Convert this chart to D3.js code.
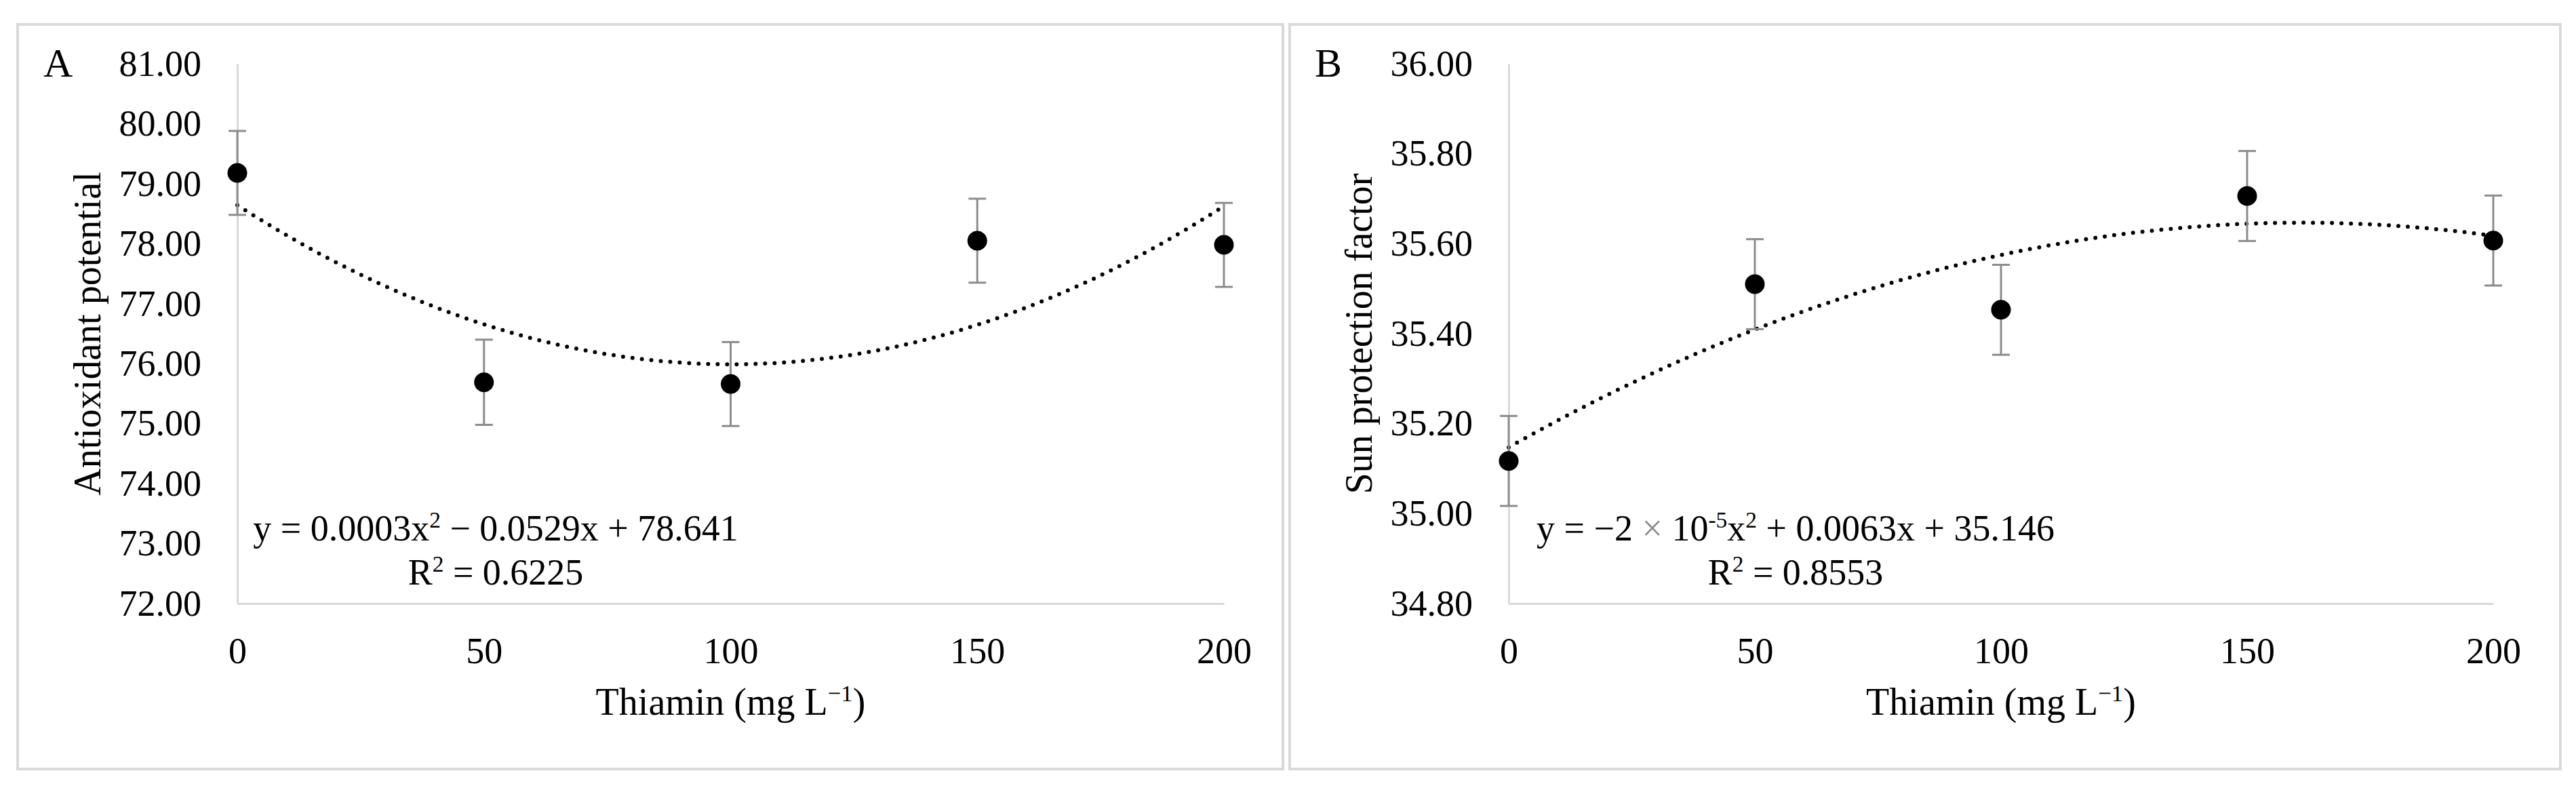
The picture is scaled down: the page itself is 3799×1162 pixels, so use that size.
<!DOCTYPE html>
<html>
<head>
<meta charset="utf-8">
<script src="https://cdn.jsdelivr.net/npm/d3@7"></script>
<style>
  body { margin: 0; background: #fff; }
  text { font-family: "Liberation Serif", "Times New Roman", serif; fill: #000; }
</style>
</head>
<body>
<svg id="chart" width="3799" height="1162"></svg>
<script>
// datos
const thiamin = [0, 50, 100, 150, 200];
const xTicks = [0, 50, 100, 150, 200];

const antioxMedia = [79.18, 75.69, 75.66, 78.05, 77.98];
const antioxError = [0.70, 0.71, 0.70, 0.70, 0.70];
const antioxTicks = [72, 73, 74, 75, 76, 77, 78, 79, 80, 81];

const spfMedia = [35.117, 35.510, 35.453, 35.706, 35.607];
const spfError = [0.10, 0.10, 0.10, 0.10, 0.10];
const spfTicks = [34.8, 35.0, 35.2, 35.4, 35.6, 35.8, 36.0];

const ecuacionA = [{t: "y = 0.0003x"}, {t: "2", sup: true}, {t: " \u2212 0.0529x  + 78.641"}];
const r2A = [{t: "R"}, {t: "2", sup: true}, {t: " = 0.6225"}];
const ecuacionB = [{t: "y = \u22122 "}, {t: "\u00d7", gris: true}, {t: " 10"}, {t: "-5", sup: true}, {t: "x"}, {t: "2", sup: true}, {t: " + 0.0063x + 35.146"}];
const r2B = [{t: "R"}, {t: "2", sup: true}, {t: " = 0.8553"}];

const svg = d3.select("#chart");

const paneles = [
  { letra: "A", titulo: "Antioxidant potential", media: antioxMedia, error: antioxError, ticks: antioxTicks,
    caja: [26, 36, 1892, 1134], x0: 350, x1: 1805, etiquetaX: 731, ecuacion: ecuacionA, r2: r2A },
  { letra: "B", titulo: "Sun protection factor", media: spfMedia, error: spfError, ticks: spfTicks,
    caja: [1902, 36, 3776, 1134], x0: 2225, x1: 3677, etiquetaX: 2648, ecuacion: ecuacionB, r2: r2B }
];

const yTop = 94, yBottom = 890;

// ajuste cuadratico por minimos cuadrados
function ajusteCuadratico(xs, ys) {
  let n = xs.length, sx = 0, sx2 = 0, sx3 = 0, sx4 = 0, sy = 0, sxy = 0, sx2y = 0;
  xs.forEach((x, i) => {
    sx += x; sx2 += x * x; sx3 += x ** 3; sx4 += x ** 4;
    sy += ys[i]; sxy += x * ys[i]; sx2y += x * x * ys[i];
  });
  const M = [[n, sx, sx2, sy], [sx, sx2, sx3, sxy], [sx2, sx3, sx4, sx2y]];
  for (let c = 0; c < 3; c++) {
    for (let r = c + 1; r < 3; r++) {
      const f = M[r][c] / M[c][c];
      for (let k = c; k < 4; k++) M[r][k] -= f * M[c][k];
    }
  }
  const b = [0, 0, 0];
  for (let r = 2; r >= 0; r--) {
    let s = M[r][3];
    for (let k = r + 1; k < 3; k++) s -= M[r][k] * b[k];
    b[r] = s / M[r][r];
  }
  return x => b[0] + b[1] * x + b[2] * x * x;
}

function escribe(sel, partes, size) {
  partes.forEach(p => {
    const ts = sel.append("tspan").text(p.t);
    if (p.sup) ts.attr("font-size", size * 0.62).attr("dy", -size * 0.36);
    if (p.gris) ts.style("fill", "#8c8c8c");
    if (p.volver) ts.attr("dy", size * 0.36);
  });
}

// marca donde hay que bajar despues de un superindice
function prepara(partes) {
  return partes.map((p, i) => Object.assign({}, p, { volver: !p.sup && i > 0 && partes[i - 1].sup }));
}

paneles.forEach(p => {
  const [bx0, by0, bx1, by1] = p.caja;
  svg.append("rect")
    .attr("x", bx0).attr("y", by0)
    .attr("width", bx1 - bx0).attr("height", by1 - by0)
    .attr("fill", "#fff").attr("stroke", "#d9d9d9").attr("stroke-width", 4);

  const x = d3.scaleLinear().domain([0, 200]).range([p.x0, p.x1]);
  const y = d3.scaleLinear().domain([d3.min(p.ticks), d3.max(p.ticks)]).range([yBottom, yTop]);

  const ejeY = svg.append("g")
    .attr("transform", `translate(${p.x0},0)`)
    .call(d3.axisLeft(y).tickValues(p.ticks).tickFormat(d3.format(".2f")).tickSize(0).tickPadding(53));
  const ejeX = svg.append("g")
    .attr("transform", `translate(0,${yBottom})`)
    .call(d3.axisBottom(x).tickValues(xTicks).tickFormat(d3.format("d")).tickSize(0).tickPadding(50));
  [ejeY, ejeX].forEach(g => {
    g.select(".domain").attr("stroke", "#d9d9d9").attr("stroke-width", 3);
    g.selectAll("text").attr("font-size", 54).attr("font-family", "Liberation Serif, serif").attr("fill", "#000");
  });

  // titulos
  svg.append("text")
    .attr("transform", `translate(${p.x0 - 202},${(yTop + yBottom) / 2}) rotate(-90)`)
    .attr("text-anchor", "middle").attr("font-size", 56)
    .text(p.titulo);

  const tx = svg.append("text")
    .attr("x", (p.x0 + p.x1) / 2).attr("y", 1054)
    .attr("text-anchor", "middle").attr("font-size", 56);
  escribe(tx, prepara([{t: "Thiamin (mg L"}, {t: "\u22121", sup: true}, {t: ")"}]), 56);

  svg.append("text")
    .attr("x", p.x0 - 286).attr("y", 113)
    .attr("font-size", 60)
    .text(p.letra);

  // linea de tendencia
  const f = ajusteCuadratico(thiamin, p.media);
  const puntos = d3.range(0, 200.5, 1);
  svg.append("path")
    .datum(puntos)
    .attr("d", d3.line().x(d => x(d)).y(d => y(f(d))))
    .attr("fill", "none").attr("stroke", "#000").attr("stroke-width", 6)
    .attr("stroke-linecap", "round").attr("stroke-dasharray", "0 14");

  // barras de error
  const barras = svg.append("g").attr("stroke", "#8c8c8c").attr("stroke-width", 3);
  thiamin.forEach((t, i) => {
    const yHi = y(p.media[i] + p.error[i]), yLo = y(p.media[i] - p.error[i]);
    barras.append("line").attr("x1", x(t)).attr("x2", x(t)).attr("y1", yHi).attr("y2", yLo);
    barras.append("line").attr("x1", x(t) - 13).attr("x2", x(t) + 13).attr("y1", yHi).attr("y2", yHi);
    barras.append("line").attr("x1", x(t) - 13).attr("x2", x(t) + 13).attr("y1", yLo).attr("y2", yLo);
  });

  svg.append("g").selectAll("circle")
    .data(thiamin)
    .join("circle")
    .attr("cx", d => x(d))
    .attr("cy", (d, i) => y(p.media[i]))
    .attr("r", 14.5)
    .attr("fill", "#000");

  // ecuacion y R2
  const eq = svg.append("text").attr("x", p.etiquetaX).attr("y", 797)
    .attr("text-anchor", "middle").attr("font-size", 54);
  escribe(eq, prepara(p.ecuacion), 54);
  const r2 = svg.append("text").attr("x", p.etiquetaX).attr("y", 862)
    .attr("text-anchor", "middle").attr("font-size", 54);
  escribe(r2, prepara(p.r2), 54);
});
</script>
</body>
</html>
